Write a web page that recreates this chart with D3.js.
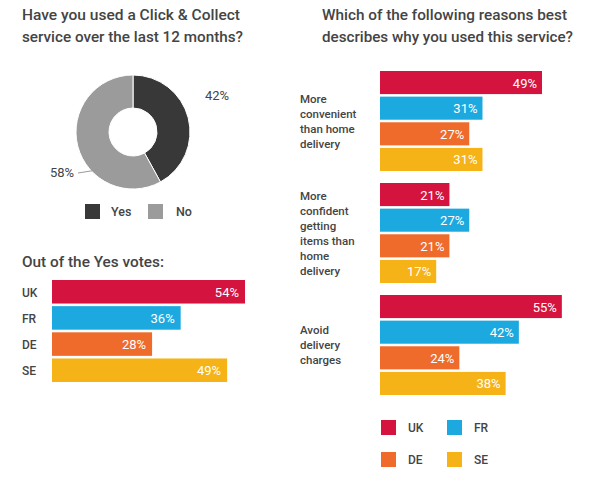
<!DOCTYPE html>
<html><head><meta charset="utf-8">
<script src="https://cdn.jsdelivr.net/npm/d3@7"></script>
<style>body{margin:0;background:#fff}text{font-family:Roboto,"Liberation Sans",sans-serif}</style>
</head><body><div id="chart-area"></div>
<script>
var countries = ["UK", "FR", "DE", "SE"];
var colors = ["#d5133f", "#1ca9e0", "#ee6b2b", "#f6b318"];
var donutLabels = ["Yes", "No"];
var donutValues = [42, 58];
var yesVotes = [54, 36, 28, 49];
var reasons = [["More", "convenient", "than home", "delivery"],
               ["More", "confident", "getting", "items than", "home", "delivery"],
               ["Avoid", "delivery", "charges"]];
var reasonValues = [[49, 31, 27, 31], [21, 27, 21, 17], [55, 42, 24, 38]];

var svg = d3.select("#chart-area").append("svg").attr("width", 590).attr("height", 481);
function title(x, y, w, t) {
    svg.append("text").attr("x", x).attr("y", y).attr("font-size", "14.5px").attr("font-weight", 500)
        .attr("fill", "#444").attr("textLength", w).attr("lengthAdjust", "spacingAndGlyphs").text(t);
}
title(22, 20, 218, "Have you used a Click & Collect");
title(22, 42, 221, "service over the last 12 months?");
title(322, 20, 245, "Which of the following reasons best");
title(322, 42, 251, "describes why you used this service?");
title(22, 267, 142, "Out of the Yes votes:");

// Donut
var pie = d3.pie().sort(null)(donutValues);
var arc = d3.arc().innerRadius(24).outerRadius(57);
var dg = svg.append("g").attr("transform", "translate(133,132)");
dg.selectAll("path").data(pie).enter().append("path")
    .attr("d", arc).attr("fill", function(d, i){ return i == 0 ? "#383838" : "#9b9b9b"; })
    .attr("stroke", "#fff").attr("stroke-width", 1);
dg.append("text").attr("x", 72).attr("y", -32).attr("font-size", "13px").attr("fill", "#444").text(donutValues[0] + "%");
dg.append("line").attr("x1", -36).attr("y1", 38).attr("x2", -55).attr("y2", 41).attr("stroke", "#999");
dg.append("text").attr("x", -83).attr("y", 45).attr("font-size", "13px").attr("fill", "#444").text(donutValues[1] + "%");
donutLabels.forEach(function(l, i){
    var x = i == 0 ? 85 : 148;
    svg.append("rect").attr("x", x).attr("y", 204).attr("width", 15).attr("height", 15).attr("fill", i == 0 ? "#383838" : "#9b9b9b");
    svg.append("text").attr("x", x + (i == 0 ? 26 : 28)).attr("y", 216).attr("font-size", "12.5px").attr("font-weight", 500).attr("fill", "#444").text(l);
});

// Yes votes bars
var xl = d3.scaleLinear().domain([0, 54]).range([0, 193]);
var yl = d3.scaleBand().domain(countries).range([280, 382]).paddingInner(0.1);
var lg = svg.append("g");
lg.selectAll("rect").data(yesVotes).enter().append("rect")
    .attr("x", 52).attr("y", function(d, i){ return yl(countries[i]); })
    .attr("width", function(d){ return xl(d); }).attr("height", yl.bandwidth())
    .attr("fill", function(d, i){ return colors[i]; });
lg.selectAll(".v").data(yesVotes).enter().append("text")
    .attr("x", function(d){ return 52 + xl(d) - 6; }).attr("y", function(d, i){ return yl(countries[i]) + yl.bandwidth() / 2 + 5; })
    .attr("text-anchor", "end").attr("font-size", "13px").attr("fill", "#fff").text(function(d){ return d + "%"; });
lg.selectAll(".c").data(countries).enter().append("text")
    .attr("x", 22).attr("y", function(d){ return yl(d) + yl.bandwidth() / 2 + 5; })
    .attr("font-size", "12px").attr("font-weight", 500).attr("fill", "#444").text(function(d){ return d; });

// Reasons bars
var xr = d3.scaleLinear().domain([0, 49]).range([0, 162]);
var groupTop = [71, 183, 295];
reasons.forEach(function(lines, gi){
    var yr = d3.scaleBand().domain(countries).range([groupTop[gi], groupTop[gi] + 100]).paddingInner(0.1);
    var g = svg.append("g");
    g.selectAll("rect").data(reasonValues[gi]).enter().append("rect")
        .attr("x", 380).attr("y", function(d, i){ return yr(countries[i]); })
        .attr("width", function(d){ return xr(d); }).attr("height", yr.bandwidth())
        .attr("fill", function(d, i){ return colors[i]; });
    g.selectAll(".v").data(reasonValues[gi]).enter().append("text")
        .attr("x", function(d){ return 380 + xr(d) - 5; }).attr("y", function(d, i){ return yr(countries[i]) + yr.bandwidth() / 2 + 5; })
        .attr("text-anchor", "end").attr("font-size", "13px").attr("fill", "#fff").text(function(d){ return d + "%"; });
    var mid = groupTop[gi] + 50, lh = 15;
    g.selectAll(".l").data(lines).enter().append("text")
        .attr("x", 300).attr("y", function(d, i){ return mid - (lines.length - 1) * lh / 2 + i * lh + 4; })
        .attr("font-size", "11.5px").attr("font-weight", 500).attr("fill", "#444").text(function(d){ return d; });
});

// Legend
countries.forEach(function(c, i){
    var x = i % 2 == 0 ? 381 : 447, y = i < 2 ? 420 : 452;
    svg.append("rect").attr("x", x).attr("y", y).attr("width", 15).attr("height", 15).attr("fill", colors[i]);
    svg.append("text").attr("x", x + 27).attr("y", y + 12).attr("font-size", "12px").attr("font-weight", 500).attr("fill", "#444").text(c);
});
</script></body></html>
